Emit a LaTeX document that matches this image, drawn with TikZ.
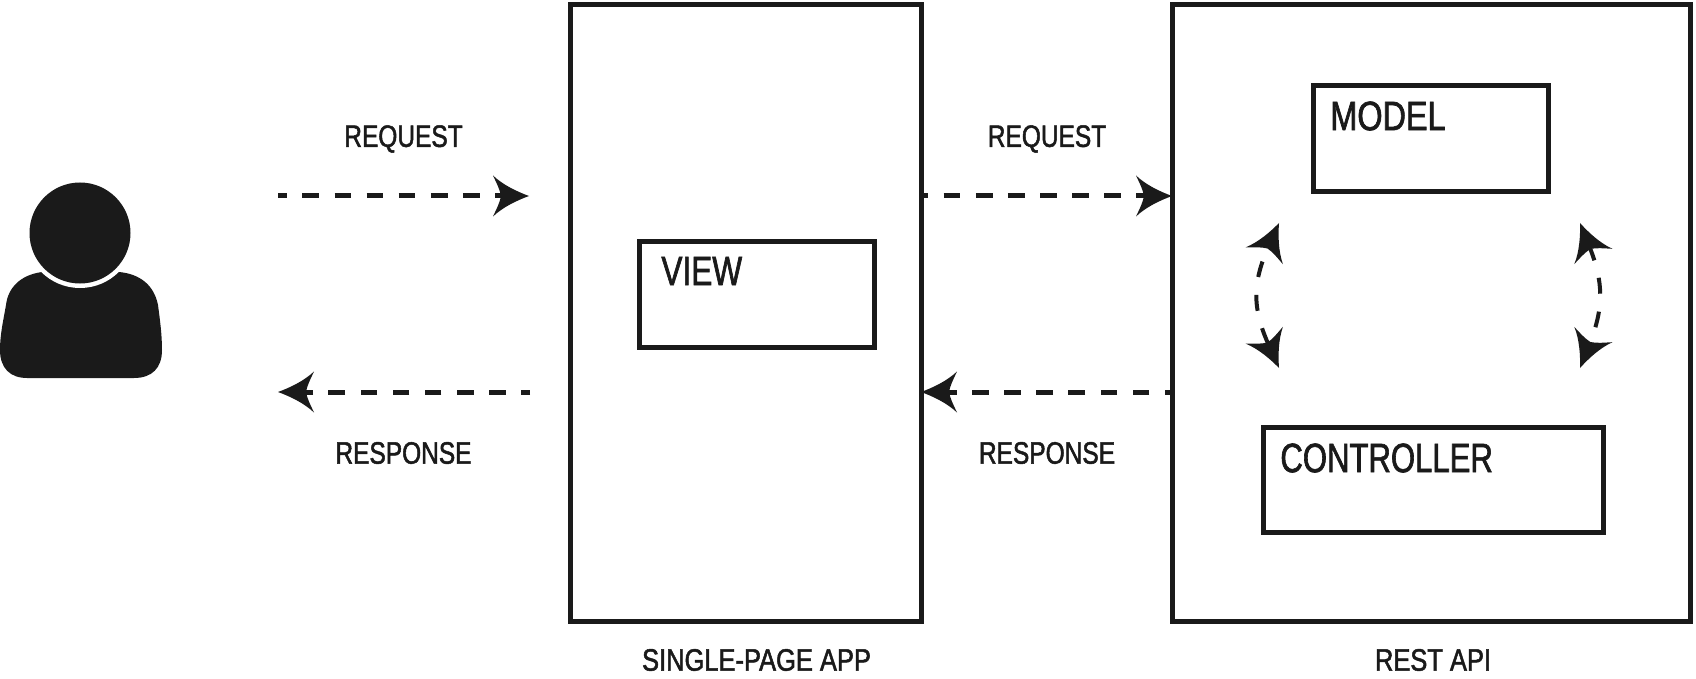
\documentclass[tikz,border=0pt]{standalone}
\usepackage{fontspec}
\setmainfont[FakeStretch=0.79,FakeBold=1.6]{Liberation Sans}
\usetikzlibrary{arrows.meta}
\definecolor{ink}{HTML}{1A1A1A}
\pgfdeclarearrow{
  name=Dart,
  setup code={%
    \pgfarrowssetbackend{-18pt}%
    \pgfarrowssetlineend{-12pt}%
    \pgfarrowssetvisualbackend{-13pt}%
    \pgfarrowssettipend{0pt}%
  },
  drawing code={%
    \pgfpathmoveto{\pgfpoint{0pt}{0pt}}%
    \pgfpathcurveto{\pgfpoint{-6pt}{2.2pt}}{\pgfpoint{-13pt}{5.5pt}}{\pgfpoint{-18pt}{10.25pt}}%
    \pgfpathcurveto{\pgfpoint{-16pt}{6pt}}{\pgfpoint{-14.5pt}{3pt}}{\pgfpoint{-14pt}{0pt}}%
    \pgfpathcurveto{\pgfpoint{-14.5pt}{-3pt}}{\pgfpoint{-16pt}{-6pt}}{\pgfpoint{-18pt}{-10.25pt}}%
    \pgfpathcurveto{\pgfpoint{-13pt}{-5.5pt}}{\pgfpoint{-6pt}{-2.2pt}}{\pgfpoint{0pt}{0pt}}%
    \pgfpathclose
    \pgfusepathqfill
  }
}
\tikzset{
  box/.style={draw=ink,line width=2.5pt,rectangle,inner sep=0pt,outer sep=0pt,fill=none},
  small/.style={text=ink,font=\fontsize{15.5pt}{18pt}\selectfont,inner sep=0pt},
  big/.style={text=ink,font=\fontsize{20.5pt}{24pt}\selectfont,inner sep=0pt,anchor=west},
  flow/.style={draw=ink,line width=2.5pt,dash pattern=on 8.35pt off 7.7pt,dash phase=3.85pt,-{Dart[color=ink]}},
  loop/.style={draw=ink,line width=2pt,dash pattern=on 8pt off 9pt,{Dart[color=ink]}-{Dart[color=ink]}},
}
\begin{document}
\begin{tikzpicture}[x=0.5pt,y=-0.5pt]
\useasboundingbox (0,0) rectangle (1696,679);
% person
\fill[ink] (42,272) .. controls (20,275) and (8,288) .. (6,305)
  .. controls (3,322) and (0,335) .. (0,350)
  .. controls (0,368) and (10,378) .. (27,378)
  -- (134,378) .. controls (152,378) and (162,368) .. (162,350)
  .. controls (162,335) and (160,320) .. (158,305)
  .. controls (154,285) and (140,274) .. (119,272) -- cycle;
\fill[white] (80,233) circle [radius=55];
\fill[ink] (80,233) circle [radius=50.5];
% containers
\node[box,minimum width=175.5pt,minimum height=308.5pt] (spa) at (745.5,313) {};
\node[box,minimum width=259pt,minimum height=308.5pt] (api) at (1431,313) {};
\node[box,minimum width=117.5pt,minimum height=52.5pt] (view) at (757,294.5) {};
\node[box,minimum width=117.5pt,minimum height=53pt] (model) at (1431,138.5) {};
\node[box,minimum width=170pt,minimum height=52.5pt] (controller) at (1433.5,479.5) {};
\node[big] (viewtext) at (661,271) {\scalebox{0.975}[1]{VIEW}};
\node[big] (modeltext) at (1330,116) {MODEL};
\node[big] (controllertext) at (1280,458) {\scalebox{0.96}[1]{CONTROLLER}};
% labels
\node[small] (req1) at (403.5,139) {REQUEST};
\node[small] (req2) at (1047,139) {REQUEST};
\node[small] (resp1) at (403.5,453) {RESPONSE};
\node[small] (resp2) at (1047,453) {RESPONSE};
\node[small] (spatext) at (756.5,660) {\scalebox{1.04}[1]{SINGLE-PAGE APP}};
\node[small] (apitext) at (1433,660) {\scalebox{1.04}[1]{REST API}};
% flow end points
\coordinate (userreqa) at (278,196);
\coordinate (userreqb) at (529,196);
\coordinate (userresa) at (530,392);
\coordinate (userresb) at (278,392);
\coordinate (apireq) at (api.west |- userreqa);
\coordinate (spareq) at (spa.east |- userreqa);
\coordinate (apires) at (api.west |- userresa);
\coordinate (spares) at (spa.east |- userresa);
\coordinate (lt) at (1279,223);
\coordinate (lb) at (1279,368);
\coordinate (rt) at (1580,223);
\coordinate (rb) at (1580,368);
\draw[flow] (userreqa) -- (userreqb);
\draw[flow] (userresa) -- (userresb);
\draw[flow,dash phase=4.7pt] (spareq) -- (apireq);
\draw[flow,dash phase=4.7pt] (apires) -- (spares);
\draw[loop,dash phase=8pt] (lt) .. controls (1252,283) and (1252,308) .. (lb);
\draw[loop,dash phase=0pt] (rt) .. controls (1604,283) and (1604,308) .. (rb);
\end{tikzpicture}
\end{document}
